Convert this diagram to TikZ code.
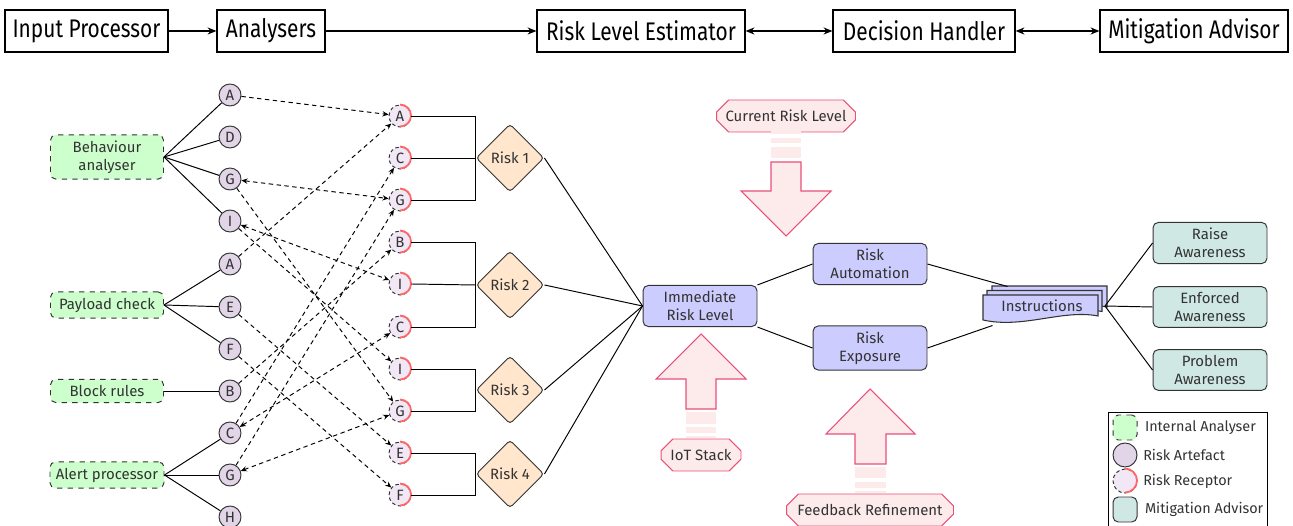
\documentclass[tikz,border=0pt]{standalone}
\usepackage{fontspec}
\setmainfont{Fira Sans}
\newfontfamily\headfont[FakeStretch=0.82]{Fira Sans}
\usetikzlibrary{shapes.geometric,shapes.misc,arrows.meta,positioning}
\definecolor{txtgray}{RGB}{51,51,51}
\definecolor{anagreen}{RGB}{204,255,204}
\definecolor{artpurple}{RGB}{225,213,231}
\definecolor{recpurple}{RGB}{241,231,245}
\definecolor{recred}{RGB}{255,102,102}
\definecolor{riskorange}{RGB}{255,230,204}
\definecolor{lavender}{RGB}{204,204,255}
\definecolor{mitteal}{RGB}{208,232,228}
\definecolor{pinkfill}{RGB}{253,234,234}
\definecolor{pinkline}{RGB}{232,80,122}

\tikzset{
  every node/.style={font=\fontsize{8.5}{10}\selectfont, text=txtgray},
  topbox/.style={draw, line width=0.7pt, minimum height=0.84cm, inner sep=3pt, text=black, font=\headfont\fontsize{14.5}{17}\selectfont},
  toparrow/.style={-{Stealth[length=5pt,width=4pt]}, line width=0.9pt},
  topboth/.style={{Stealth[length=5pt,width=4pt]}-{Stealth[length=5pt,width=4pt]}, line width=0.9pt},
  analyser/.style={draw=txtgray, dashed, fill=anagreen, rounded corners=3pt, minimum width=2.26cm, minimum height=0.46cm, align=center},
  artefact/.style={circle, draw=txtgray, fill=artpurple, minimum size=0.44cm, inner sep=0pt},
  receptor/.style={circle, draw=txtgray, dash pattern=on 2pt off 1.5pt, fill=recpurple, minimum size=0.44cm, inner sep=0pt},
  recarc/.style={recred, line width=1pt},
  riskbox/.style={diamond, aspect=1, draw=txtgray, fill=riskorange, rounded corners=2pt, minimum size=1.36cm, inner sep=0pt},
  levelbox/.style={draw=txtgray, fill=lavender, rounded corners=3pt, minimum width=2.28cm, minimum height=0.78cm, align=center},
  advisor/.style={draw=txtgray, fill=mitteal, rounded corners=3pt, minimum width=2.28cm, minimum height=0.78cm, align=center},
  source/.style={chamfered rectangle, chamfered rectangle xsep=0.17cm, draw=pinkline, fill=pinkfill, minimum height=0.64cm, inner sep=0pt},
  blockarrow/.style={draw=pinkline, fill=pinkfill, line width=0.6pt},
  docshape/.style={draw=txtgray, fill=lavender, line width=0.6pt},
  legendtext/.style={inner sep=1pt, font=\fontsize{8.2}{10}\selectfont},
  link/.style={dash pattern=on 2.5pt off 2pt, -{Stealth[length=3.5pt,width=3pt]}},
  linkboth/.style={dash pattern=on 2.5pt off 2pt, {Stealth[length=3.5pt,width=3pt]}-{Stealth[length=3.5pt,width=3pt]}},
}

\begin{document}
\begin{tikzpicture}[x=0.02cm, y=-0.02cm, line width=0.55pt]
    \useasboundingbox (0,0) rectangle (1293,526);

    % Pipeline across the top
    \node[topbox, minimum width=3.26cm] (inp) at (86.5,31) {Input Processor};
    \node[topbox, minimum width=2.16cm] (ana) at (271,31) {Analysers};
    \node[topbox, minimum width=4.16cm] (rle) at (641,31) {Risk Level Estimator};
    \node[topbox, minimum width=3.64cm] (dec) at (924,31) {Decision Handler};
    \node[topbox, minimum width=3.76cm] (mit) at (1194,31) {Mitigation Advisor};
    \draw[toparrow] (inp) -- (ana);
    \draw[toparrow] (ana) -- (rle);
    \draw[topboth] (rle) -- (dec);
    \draw[topboth] (dec) -- (mit);

    % Internal analysers
    \node[analyser, minimum height=0.82cm] (beh) at (107,157) {Behaviour\\analyser};
    \node[analyser] (pay) at (107,305) {Payload check};
    \node[analyser] (blk) at (107,391) {Block rules};
    \node[analyser] (alr) at (107,475) {Alert processor};

    % Risk artefacts
    \node[artefact] (a1) at (230,95) {A};
    \node[artefact] (a2) at (230,137) {D};
    \node[artefact] (a3) at (230,179) {G};
    \node[artefact] (a4) at (230,221) {I};
    \node[artefact] (a5) at (230,264) {A};
    \node[artefact] (a6) at (230,307) {E};
    \node[artefact] (a7) at (230,349) {F};
    \node[artefact] (a8) at (230,391) {B};
    \node[artefact] (a9) at (230,433) {C};
    \node[artefact] (a10) at (230,475) {G};
    \node[artefact] (a11) at (230,517) {H};

    \draw (beh.east) -- (a1);
    \draw (beh.east) -- (a2);
    \draw (beh.east) -- (a3);
    \draw (beh.east) -- (a4);
    \draw (pay.east) -- (a5);
    \draw (pay.east) -- (a6);
    \draw (pay.east) -- (a7);
    \draw (blk.east) -- (a8);
    \draw (alr.east) -- (a9);
    \draw (alr.east) -- (a10);
    \draw (alr.east) -- (a11);

    % Risk receptors
    \node[receptor] (r1) at (400,116) {A};
    \node[receptor] (r2) at (400,158) {C};
    \node[receptor] (r3) at (400,200) {G};
    \node[receptor] (r4) at (400,242) {B};
    \node[receptor] (r5) at (400,284) {I};
    \node[receptor] (r6) at (400,327) {C};
    \node[receptor] (r7) at (400,369) {I};
    \node[receptor] (r8) at (400,411) {G};
    \node[receptor] (r9) at (400,453) {E};
    \node[receptor] (r10) at (400,495) {F};
    \foreach \n in {r1,r2,r3,r4,r5,r6,r7,r8,r9,r10}
        \draw[recarc] (\n.north) arc[start angle=90, end angle=-90, radius=0.22cm];

    % Artefacts matched to receptors
    \draw[link] (a1) -- (r1);
    \draw[link] (a5) -- (r1);
    \draw[link] (a9) -- (r2);
    \draw[linkboth] (a3) -- (r3);
    \draw[link] (a10) -- (r3);
    \draw[link] (a8) -- (r4);
    \draw[linkboth] (a4) -- (r5);
    \draw[linkboth] (a9) -- (r6);
    \draw[link] (a4) -- (r7);
    \draw[link] (a3) -- (r8);
    \draw[linkboth] (a10) -- (r8);
    \draw[link] (a6) -- (r9);
    \draw[link] (a7) -- (r10);

    % Risks
    \node[riskbox] (rk1) at (510,158) {Risk 1};
    \node[riskbox] (rk2) at (510,285) {Risk 2};
    \node[riskbox] (rk3) at (510,390) {Risk 3};
    \node[riskbox] (rk4) at (510,474) {Risk 4};

    \draw (r1.east) -| (rk1.west);
    \draw (r2.east) -- (rk1.west);
    \draw (r3.east) -| (rk1.west);
    \draw (r4.east) -| (rk2.west);
    \draw (r5.east) -- (rk2.west);
    \draw (r6.east) -| (rk2.west);
    \draw (r7.east) -| (rk3.west);
    \draw (r8.east) -| (rk3.west);
    \draw (r9.east) -| (rk4.west);
    \draw (r10.east) -| (rk4.west);

    % Risk level and decision
    \node[levelbox] (imm) at (700,306) {Immediate\\Risk Level};
    \node[levelbox] (auto) at (870,264) {Risk\\Automation};
    \node[levelbox] (expo) at (870,348) {Risk\\Exposure};

    \draw (rk1.east) -- (imm.west);
    \draw (rk2.east) -- (imm.west);
    \draw (rk3.east) -- (imm.west);
    \draw (rk4.east) -- (imm.west);
    \draw (imm.north east) -- (auto.west);
    \draw (imm.south east) -- (expo.west);

    % Inputs to the estimator
    \node[source, minimum width=2.78cm] (crl) at (786,116) {Current Risk Level};
    \node[source, minimum width=1.6cm] (iot) at (701,455) {IoT Stack};
    \node[source, minimum width=3.34cm] (fbr) at (870,510) {Feedback Refinement};

    \fill[pinkfill] (771,131) rectangle (801,134);
    \fill[pinkfill] (771,138) rectangle (801,143);
    \fill[pinkfill] (771,147) rectangle (801,158);
    \draw[blockarrow] (771,162) -- (801,162) -- (801,191) -- (831,191) -- (786,236) -- (741,191) -- (771,191) -- cycle;

    \fill[pinkfill] (686,412) rectangle (716,424);
    \fill[pinkfill] (686,427) rectangle (716,433);
    \fill[pinkfill] (686,436) rectangle (716,438);
    \draw[blockarrow] (686,409) -- (716,409) -- (716,379) -- (746,379) -- (701,334) -- (656,379) -- (686,379) -- cycle;

    \fill[pinkfill] (855,467) rectangle (886,478);
    \fill[pinkfill] (855,482) rectangle (886,488);
    \fill[pinkfill] (855,491) rectangle (886,493);
    \draw[blockarrow] (855,464) -- (886,464) -- (886,434) -- (915,434) -- (870,389) -- (826,434) -- (855,434) -- cycle;

    % Instructions (stacked documents)
    \draw[docshape] (992,286) -- (1107,286) -- (1107,307) .. controls (1072,300) and (1032,320) .. (992,311) -- cycle;
    \draw[docshape] (987,290.5) -- (1102,290.5) -- (1102,311.5) .. controls (1067,304.5) and (1027,324.5) .. (987,315.5) -- cycle;
    \draw[docshape] (983,295) -- (1098,295) -- (1098,316) .. controls (1063,309) and (1023,329) .. (983,320) -- cycle;
    \node[minimum width=2.5cm, minimum height=0.76cm] (instr) at (1042,306) {Instructions};

    \draw (auto.east) -- ([xshift=0.57cm]instr.north west);
    \draw (expo.east) -- ([xshift=0.27cm]instr.south west);

    % Mitigation advice
    \node[advisor] (ra) at (1210,243) {Raise\\Awareness};
    \node[advisor] (ea) at (1210,307) {Enforced\\Awareness};
    \node[advisor] (pa) at (1210,370) {Problem\\Awareness};
    \draw (instr.east) -- (ra.west);
    \draw (instr.east) -- (ea.west);
    \draw (instr.east) -- (pa.west);

    % Legend
    \draw (1108,530) -- (1108,412) -- (1267,412) -- (1267,530);
    \node[analyser, minimum width=0.48cm, minimum height=0.5cm] (lg1) at (1125,427.5) {};
    \node[artefact, minimum size=0.48cm] (lg2) at (1125,455) {};
    \node[receptor, minimum size=0.48cm] (lg3) at (1125,481) {};
    \node[advisor, minimum width=0.48cm, minimum height=0.5cm] (lg4) at (1125,509.5) {};
    \draw[recarc] (lg3.north) arc[start angle=90, end angle=-90, radius=0.24cm];
    \node[legendtext, right=3pt of lg1] (lt1) {Internal Analyser};
    \node[legendtext, right=2pt of lg2] (lt2) {Risk Artefact};
    \node[legendtext, right=2pt of lg3] (lt3) {Risk Receptor};
    \node[legendtext, right=3pt of lg4] (lt4) {Mitigation Advisor};

\end{tikzpicture}
\end{document}
